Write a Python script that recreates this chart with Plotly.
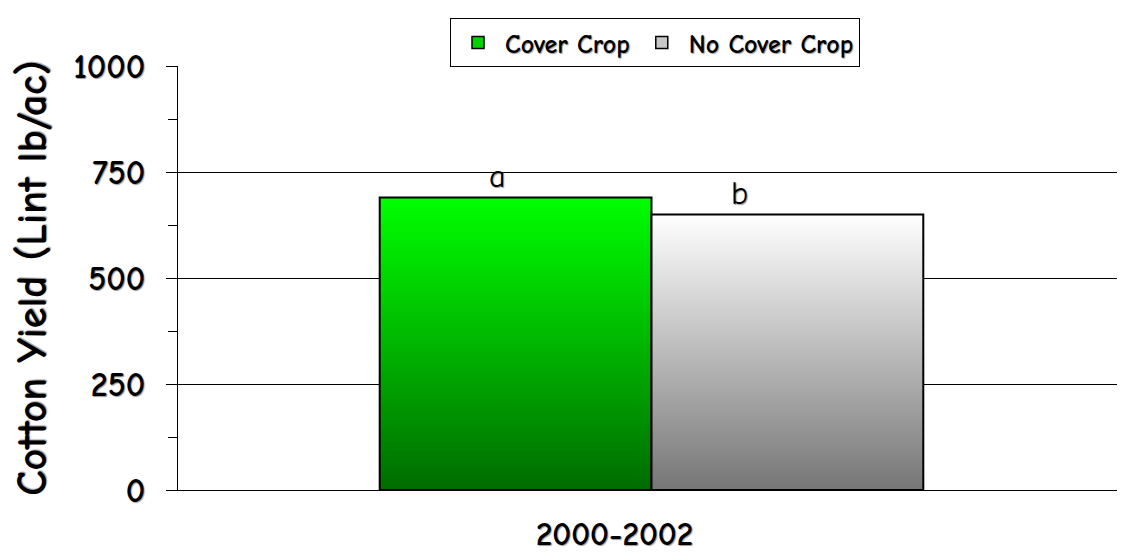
import plotly.graph_objects as go

categories = ["2000-2002"]
series_names = ["Cover Crop", "No Cover Crop"]
cover_crop = [690]
no_cover_crop = [650]
letters_cover = ["a"]
letters_no = ["b"]
y_ticks = [0, 250, 500, 750, 1000]

FONT = "Comic Sans MS, Comic Neue, DejaVu Sans, sans-serif"
SHADOW = "1px 1px 1px #9a9a9a"

# style: (gradient colorscale, legend swatch colour, letter x-shift in px)
series = [
    (series_names[0], cover_crop, letters_cover, [[0, "#006c00"], [1, "#00ff00"]], "#00d400", -18),
    (series_names[1], no_cover_crop, letters_no, [[0, "#767676"], [1, "#ffffff"]], "#c8c8c8", -48),
]

bar_w = 0.287
fig = go.Figure()
annotations = []
n = len(series)
for s_idx, (name, vals, letters, cscale, legcol, lshift) in enumerate(series):
    xs, ys = [], []
    for c_idx, v in enumerate(vals):
        left = c_idx - bar_w * n / 2 + s_idx * bar_w
        right = left + bar_w
        xs += [left, left, right, right, left, None]
        ys += [0, v, v, 0, 0, None]
        annotations.append(dict(
            x=(left + right) / 2, y=v, xref="x", yref="y", text=letters[c_idx],
            showarrow=False, yanchor="bottom", yshift=0, xshift=lshift,
            font=dict(family=FONT, size=32, color="black", shadow=SHADOW),
        ))
    fig.add_trace(go.Scatter(
        x=xs, y=ys, name=name, mode="lines", fill="toself",
        line=dict(color="black", width=2),
        fillgradient=dict(type="vertical", colorscale=cscale),
        hoverinfo="skip", showlegend=False,
    ))
    # legend-only entry (square swatch)
    fig.add_trace(go.Bar(
        x=[None], y=[None], name=name,
        marker=dict(color=legcol, line=dict(color="black", width=1.5)),
        showlegend=True, hoverinfo="skip",
    ))

fig.update_layout(
    width=1117, height=549,
    margin=dict(l=170, r=0, t=58, b=67, autoexpand=False),
    paper_bgcolor="white", plot_bgcolor="white",
    font=dict(family=FONT, color="black"),
    showlegend=True,
    legend=dict(
        orientation="h", x=647 / 1117, xanchor="center", xref="container",
        y=1 - 10 / 549, yanchor="top", yref="container",
        bordercolor="black", borderwidth=1, bgcolor="white",
        font=dict(family=FONT, size=26, color="black", weight="bold", shadow=SHADOW),
        itemwidth=44, traceorder="normal", tracegroupgap=0,
    ),
    annotations=annotations,
    xaxis=dict(
        range=[-0.5, len(categories) - 0.5],
        tickvals=list(range(len(categories))), ticktext=categories,
        showgrid=False, zeroline=False, showline=True, linecolor="black", linewidth=1,
        ticks="", ticklabelstandoff=14, ticklabelshift=-37, automargin=False,
        tickfont=dict(family=FONT, size=33, color="black", weight="bold", shadow=SHADOW),
    ),
    yaxis=dict(
        range=[0, 1000], tickvals=y_ticks,
        showgrid=True, gridcolor="black", gridwidth=1,
        zeroline=False, showline=True, linecolor="black", linewidth=1,
        ticks="outside", ticklen=11, tickcolor="black",
        minor=dict(dtick=125, ticks="outside", ticklen=9, tickcolor="black", showgrid=False),
        ticklabelstandoff=14, automargin=False,
        tickfont=dict(family=FONT, size=34, color="black", weight="bold", shadow=SHADOW),
        title=dict(text="Cotton Yield (Lint lb/ac)", standoff=20,
                   font=dict(family=FONT, size=42, color="black", weight="bold", shadow=SHADOW)),
    ),
)

fig.write_html("out.html")
